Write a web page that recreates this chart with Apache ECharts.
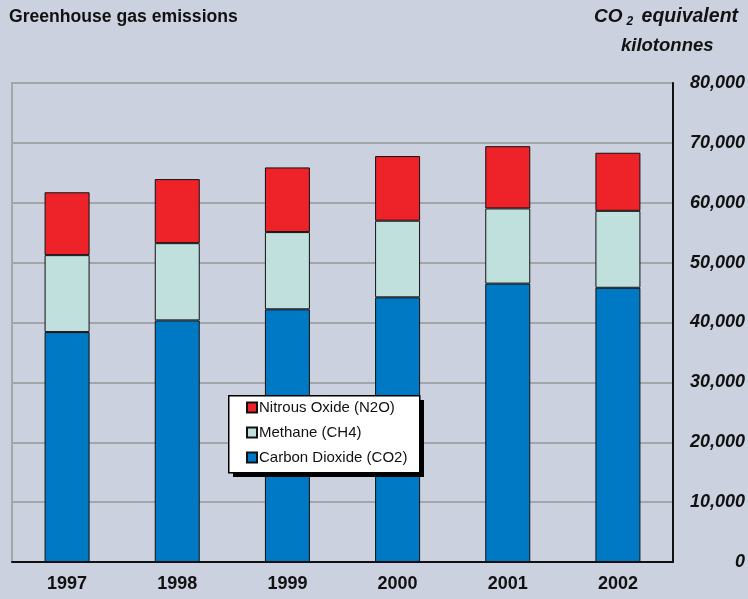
<!DOCTYPE html>
<html>
<head>
<meta charset="utf-8">
<script src="https://cdn.jsdelivr.net/npm/echarts@6/dist/echarts.min.js"></script>
<style>
html,body{margin:0;padding:0;background:#CBD1DF;}
#chart{width:748px;height:599px;}
</style>
</head>
<body>
<div id="chart"></div>
<script>
const years = ['1997', '1998', '1999', '2000', '2001', '2002'];
const co2 = [38400, 40350, 42200, 44200, 46500, 45800];
const ch4 = [12850, 12900, 12900, 12800, 12550, 12850];
const n2o = [10500, 10700, 10800, 10800, 10400, 9700];
const yTicks = [0, 10000, 20000, 30000, 40000, 50000, 60000, 70000, 80000];
const seriesNames = ['Carbon Dioxide (CO2)', 'Methane (CH4)', 'Nitrous Oxide (N2O)'];
const seriesColors = ['#0079C4', '#C0E0DE', '#EE2229'];

const chart = echarts.init(document.getElementById('chart'), null, {renderer: 'canvas'});
const fontFam = '"Liberation Sans", Arial, Helvetica, sans-serif';
const dataSets = [co2, ch4, n2o];

const option = {
  backgroundColor: '#CBD1DF',
  animation: false,
  textStyle: {fontFamily: fontFam},
  title: {
    text: 'Greenhouse gas emissions',
    left: 4, top: 3,
    textStyle: {fontFamily: fontFam, fontSize: 17.6, fontWeight: 'bold', color: '#111'}
  },
  graphic: [
    {
      type: 'text', left: 594, top: 6, z: 10,
      style: {
        rich: {
          a: {fontFamily: fontFam, fontSize: 19, fontWeight: 'bold', fontStyle: 'italic', fill: '#111', lineHeight: 23},
          s: {fontFamily: fontFam, fontSize: 12, fontWeight: 'bold', fontStyle: 'italic', fill: '#111', lineHeight: 23, padding: [10, 0, 0, 4]},
          b: {fontFamily: fontFam, fontSize: 19.5, fontWeight: 'bold', fontStyle: 'italic', fill: '#111', lineHeight: 23, padding: [0, 0, 0, 3]}
        },
        text: '{a|CO}{s|2}{b| equivalent}'
      }
    },
    {
      type: 'text', left: 621, top: 36, z: 10,
      style: {text: 'kilotonnes', fontFamily: fontFam, fontSize: 18.5, fontWeight: 'bold', fontStyle: 'italic', fill: '#111'}
    },
    {
      type: 'rect', z: 5, left: 233, top: 400,
      shape: {x: 0, y: 0, width: 191, height: 77},
      style: {fill: '#000'}
    },
    {
      type: 'rect', z: 6, left: 228, top: 395,
      shape: {x: 0, y: 0, width: 191, height: 77},
      style: {fill: '#FFFFFF', stroke: '#000', lineWidth: 1.5}
    }
  ],
  legend: {
    orient: 'vertical',
    left: 228, top: 395,
    z: 10,
    data: [seriesNames[2], seriesNames[1], seriesNames[0]],
    icon: 'rect',
    itemWidth: 10, itemHeight: 10,
    itemGap: 8,
    padding: [4, 0, 0, 18],
    textStyle: {fontFamily: fontFam, fontSize: 15, color: '#111', lineHeight: 17, padding: [0, 0, 0, -3]},
    selectedMode: false
  },
  grid: {
    left: 12, right: 75, top: 83, bottom: 37,
    show: true,
    borderColor: '#A3A5A8',
    borderWidth: 2,
    backgroundColor: 'transparent'
  },
  xAxis: {
    type: 'category',
    data: years,
    axisLine: {show: true, lineStyle: {color: '#111', width: 2}},
    axisTick: {show: false},
    axisLabel: {fontFamily: fontFam, fontSize: 18, fontWeight: 'bold', color: '#111', margin: 13}
  },
  yAxis: {
    type: 'value',
    position: 'right',
    min: yTicks[0], max: yTicks[yTicks.length - 1], interval: yTicks[1] - yTicks[0],
    axisLine: {show: true, lineStyle: {color: '#111', width: 2}},
    axisTick: {show: false},
    splitLine: {show: true, lineStyle: {color: '#A3A5A8', width: 2}},
    axisLabel: {
      fontFamily: fontFam, fontSize: 18, fontWeight: 'bold', fontStyle: 'italic', color: '#111',
      align: 'right', margin: 72,
      formatter: v => v.toLocaleString('en-US')
    }
  },
  series: dataSets.map((d, i) => ({
    name: seriesNames[i],
    type: 'bar',
    stack: 'total',
    barWidth: 45,
    data: d,
    itemStyle: {color: seriesColors[i], borderColor: '#111', borderWidth: 1}
  }))
};
chart.setOption(option);
</script>
</body>
</html>
